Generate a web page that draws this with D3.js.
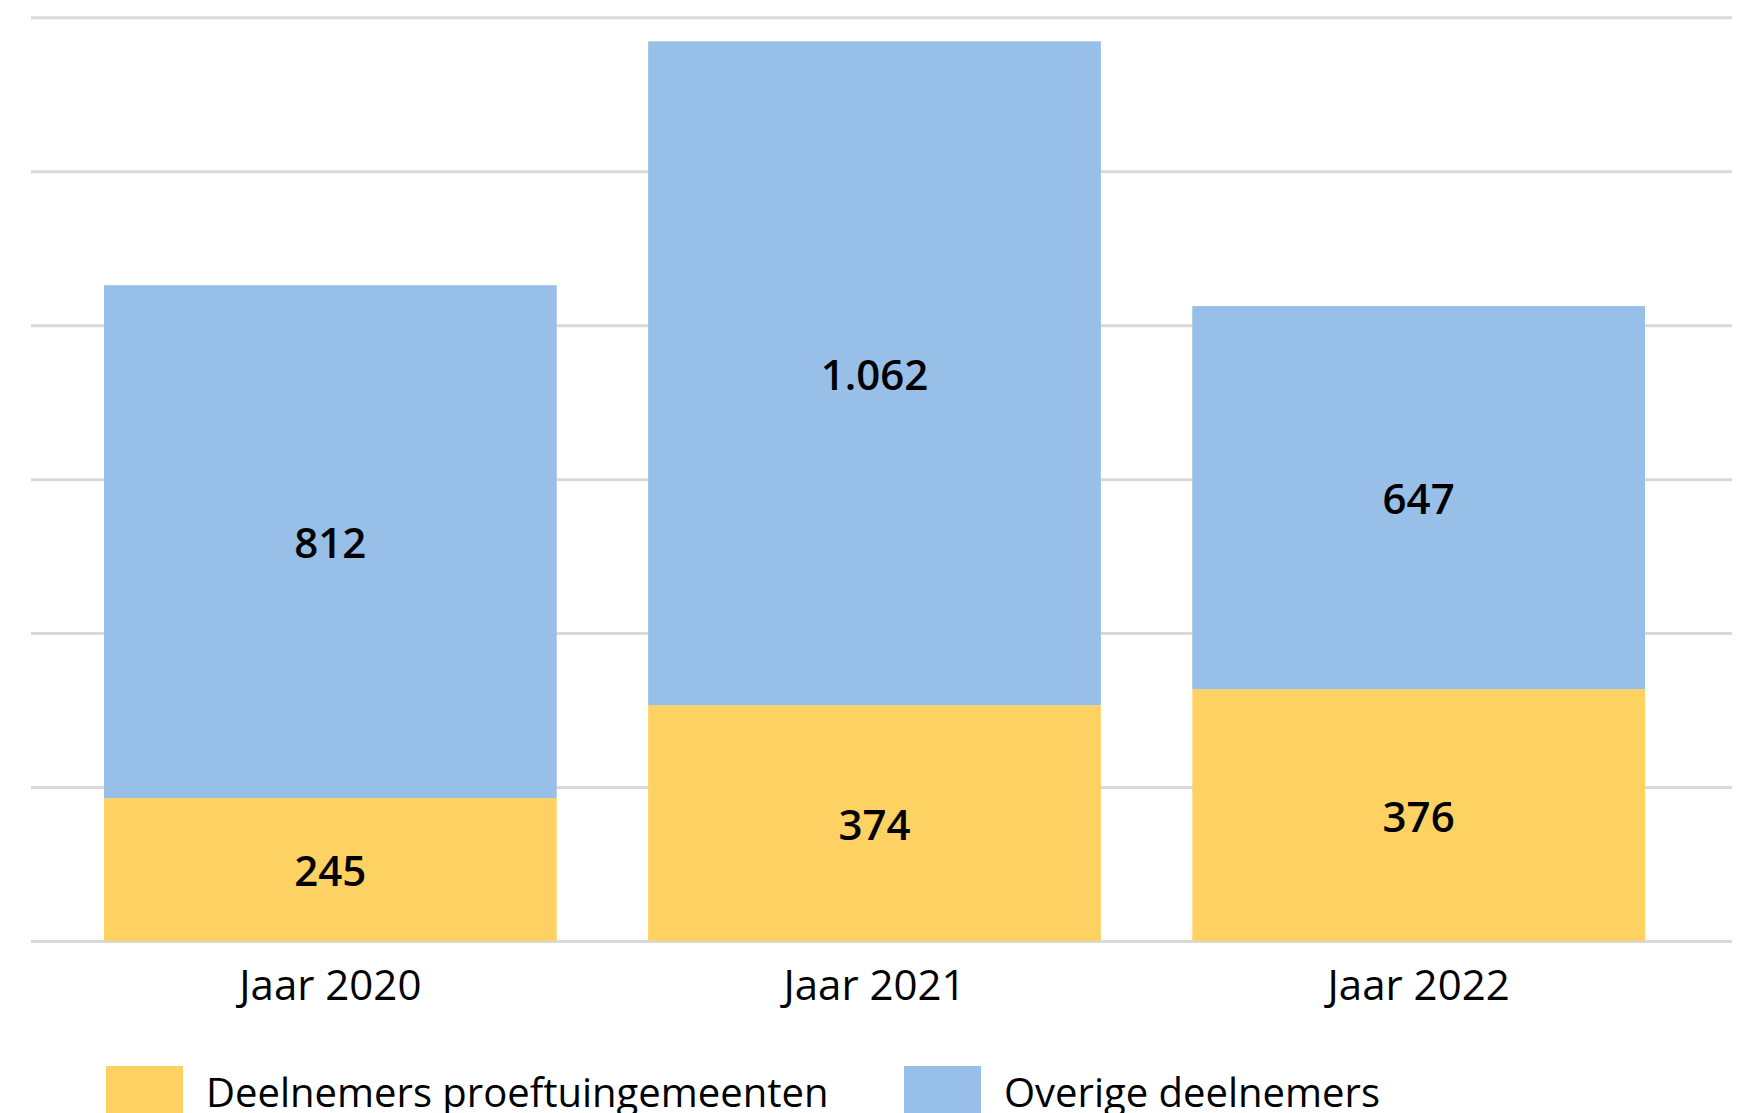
<!DOCTYPE html>
<html>
<head>
<meta charset="utf-8">
<script src="https://cdn.jsdelivr.net/npm/d3@7"></script>
<style>
  html, body { margin: 0; padding: 0; background: #ffffff; overflow: hidden; }
  svg { display: block; font-family: "Open Sans", "Noto Sans", sans-serif; }
</style>
</head>
<body>
<svg id="chart" width="1741" height="1113"></svg>
<script>
// ---- data ----
const years = ["Jaar 2020", "Jaar 2021", "Jaar 2022"];
const proeftuinValues = [232, 383, 409];     // bar heights as drawn
const overigeValues = [833, 1078, 622];      // bar heights as drawn
const proeftuinLabels = ["245", "374", "376"];
const overigeLabels = ["812", "1.062", "647"];
const seriesNames = ["Deelnemers proeftuingemeenten", "Overige deelnemers"];
const yTickValues = [0, 250, 500, 750, 1000, 1250, 1500];

// ---- layout ----
const gridLeft = 31, gridRight = 1732;
const baseY = 941, topY = 17.3;
const colors = ["#FDD262", "#97BFE7"];

const svg = d3.select("#chart");

const x = d3.scaleBand()
  .domain(years)
  .range([104, 1645])
  .paddingInner(0.168)
  .paddingOuter(0);

const y = d3.scaleLinear()
  .domain([0, 1500])
  .range([baseY, topY]);

// gridlines
const grid = svg.append("g")
  .attr("transform", `translate(${gridLeft},0)`)
  .call(d3.axisLeft(y).tickValues(yTickValues).tickSize(-(gridRight - gridLeft)).tickFormat(""));
grid.select(".domain").remove();
grid.selectAll(".tick line").attr("stroke", "#d9d9d9").attr("stroke-width", 3);

// stacked data
const rows = years.map((yr, i) => ({
  year: yr,
  proef: proeftuinValues[i],
  overig: overigeValues[i],
  proefLabel: proeftuinLabels[i],
  overigLabel: overigeLabels[i]
}));
const keys = ["proef", "overig"];
const labelKeys = { proef: "proefLabel", overig: "overigLabel" };
const stacked = d3.stack().keys(keys)(rows);

const layers = svg.append("g").selectAll("g")
  .data(stacked)
  .join("g")
  .attr("fill", (d, i) => colors[i]);

layers.selectAll("rect")
  .data(d => d)
  .join("rect")
  .attr("x", d => x(d.data.year))
  .attr("width", x.bandwidth())
  .attr("y", d => y(d[1]))
  .attr("height", d => y(d[0]) - y(d[1]));

// value labels
const labelG = svg.append("g");
stacked.forEach(layer => {
  labelG.selectAll(null)
    .data(layer)
    .join("text")
    .attr("x", d => x(d.data.year) + x.bandwidth() / 2)
    .attr("y", d => (y(d[0]) + y(d[1])) / 2)
    .attr("text-anchor", "middle")
    .attr("dominant-baseline", "central")
    .attr("font-size", 42)
    .attr("font-weight", 600)
    .attr("fill", "#000")
    .text(d => d.data[labelKeys[layer.key]]);
});

// x axis labels
const xAxis = svg.append("g")
  .attr("transform", `translate(0,${baseY})`)
  .call(d3.axisBottom(x).tickSize(0).tickPadding(0));
xAxis.select(".domain").remove();
xAxis.selectAll(".tick text")
  .attr("y", 59)
  .attr("dy", 0)
  .attr("font-size", 42)
  .attr("font-family", "'Open Sans', sans-serif")
  .attr("fill", "#000");

// legend
const legendX = [106, 904];
const legend = svg.append("g").selectAll("g")
  .data(seriesNames)
  .join("g")
  .attr("transform", (d, i) => `translate(${legendX[i]},1066)`);
legend.append("rect")
  .attr("width", 77)
  .attr("height", 77)
  .attr("fill", (d, i) => colors[i]);
legend.append("text")
  .attr("x", 100)
  .attr("y", 41)
  .attr("font-size", 40)
  .attr("fill", "#000")
  .text(d => d);
</script>
</body>
</html>
